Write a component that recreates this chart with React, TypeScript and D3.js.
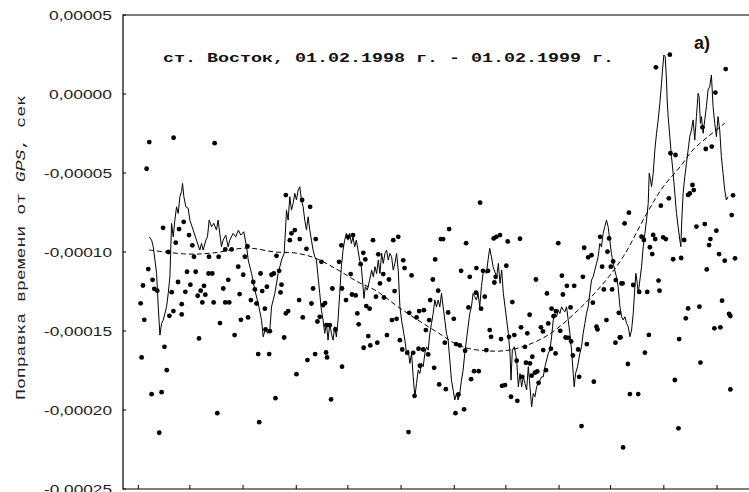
import React, { useEffect, useRef } from 'react'
import * as d3 from 'd3'

// values in microseconds, x in days from 01.02.1998
const dots: [number, number][] = [
  [5.6, -30.4], [20.2, -27.7], [44.9, -31.1], [4, -47.3], [26.3, -80.9], [13.9, -84.7], [23.5, -85.5], [29.5, -89.3],
  [21.5, -94.1], [31.5, -95.8], [17, -100], [32.5, -103], [5, -110.8], [7.6, -117.6], [1.8, -121.2], [8.6, -123.3],
  [10.4, -124.5], [19.1, -125.4], [22.9, -119], [28.3, -112.5], [33.5, -112.5], [30.3, -120.7], [36.5, -124.5],
  [38.5, -121.4], [34.7, -127.7], [39.3, -127], [37.5, -131.9], [27.3, -125.2], [25.1, -133], [20.1, -137.4],
  [17.7, -140.4], [25.1, -139.5], [0.4, -132.5], [2.6, -142.9], [35.5, -154.7], [41.5, -103], [41.3, -113.6],
  [43.5, -113.6], [44.3, -131.9], [47.3, -103], [48.1, -145], [50.1, -123.1], [51.3, -131.9], [53.7, -131.9],
  [53.1, -117.6], [51.3, -98.4], [55.1, -98.4], [59.1, -109.3], [62.1, -114.4], [59.9, -126.6], [60.7, -142.9],
  [56.9, -152.6], [64.6, -96.3], [65, -141.4], [1, -166.7], [14.7, -160], [16.1, -174.8], [7, -190], [13, -188.7],
  [46.5, -202], [11.6, -214.4],
  [87.7, -64], [97.5, -67.1], [102.3, -71.4], [105.7, -91.8], [100.1, -98], [91.1, -88.2], [93.1, -86.1],
  [96.1, -91.8], [90.1, -92.5], [63.1, -103], [82.1, -102.4], [72.5, -113.6], [79.1, -114.4], [80.5, -113.6],
  [83.7, -111.9], [68.1, -119], [76.3, -122], [73.5, -124.7], [85.1, -120.7], [84.5, -125.6], [69.1, -123.7],
  [66.7, -130.4], [70.1, -132.6], [75.1, -135.9], [89.1, -137.4], [87.7, -138.9], [95.7, -130.4], [97.9, -141.4],
  [103.1, -132.6], [104.1, -123.1], [110.1, -133.6], [111.3, -132.3], [106.7, -144], [108.1, -141], [109.1, -106.2],
  [115.7, -123.1], [121.5, -123.1], [123.9, -130.4], [121.1, -95.8], [119.7, -106.2], [125.1, -90.4], [128.1, -89.3],
  [126.7, -114], [127.5, -126.9], [129.7, -127.5], [130.7, -138.9], [131.5, -145.8], [132.7, -107.7], [134.3, -100.5],
  [135.5, -104.7], [136.1, -134.2], [138.1, -135.9], [140.1, -92.5], [137.3, -153.2], [134.5, -160.6], [138.5, -159.1],
  [117.5, -149], [114.1, -146.3], [112.1, -146.3], [86.7, -154.1], [75.5, -149], [78.1, -150.1], [71.1, -164.6],
  [77.7, -164.6], [105.3, -164.6], [111.9, -163.6], [112.5, -166.7], [100.7, -168.4], [121.5, -172.6], [94.1, -177.3],
  [81.5, -192.5], [114.9, -193.3], [71.7, -207.7],
  [204.5, -68.8], [185.9, -85.5], [180.9, -91.8], [182.3, -91.8], [196.1, -94.4], [212.7, -91.4], [214.3, -90.4],
  [152.3, -92.5], [155.3, -90.4], [143.3, -101.5], [158.3, -105.3], [159.1, -110.2], [163.3, -114.8], [177.5, -104.7],
  [193.1, -111.9], [198.3, -115.7], [202.3, -110.2], [206.3, -111.9], [209.3, -111.9], [213.1, -119.3], [176.1, -117.4],
  [179.3, -124.5], [149.7, -117.4], [146.3, -114], [144.3, -119.9], [141.9, -128.3], [146.7, -128.8], [153.1, -124.7],
  [151.5, -143.1], [154.3, -142.3], [161.9, -138.5], [167.9, -137.4], [170.7, -136.8], [166.3, -141.4], [174.5, -130.4],
  [173.9, -143.1], [185.3, -138.3], [188.7, -142.3], [197.5, -135.1], [205.1, -135.9], [207.3, -128.3], [202.1, -125.8],
  [148.5, -152.6], [142.7, -157.4], [156.3, -155.8], [157.7, -161.7], [160.7, -163.8], [164.3, -163.8], [167.5, -161.2],
  [170.3, -161.7], [171.9, -149.4], [173.3, -164.8], [183.3, -157.4], [190.1, -158.3], [192.3, -159.1], [195.5, -162.5],
  [210.3, -149.4], [211.1, -153.7], [208.3, -162.1], [200.9, -175.4], [203.7, -175.4], [199.1, -180.5], [176.9, -173.3],
  [168.3, -172], [179.9, -183.8], [183.9, -186.8], [165.1, -191], [191.5, -190.2], [189.7, -202], [194.9, -199.6],
  [161.5, -214],
  [216.5, -89.3], [221.1, -93.3], [228.5, -91.6], [251.5, -94.4], [267.1, -97.3], [269.5, -103.4], [271.5, -102],
  [220.3, -108.7], [213.9, -115.7], [238.1, -117.4], [253.7, -115], [256.7, -121.4], [261.1, -121.4], [254.3, -126.9],
  [244.7, -126.2], [266.3, -115.7], [223.9, -131.7], [234.3, -139.7], [247.5, -135.9], [250.1, -137.4], [248.7, -140.6],
  [258.9, -135.1], [245.5, -145.2], [241.1, -147.7], [242.3, -150.3], [232.9, -151.5], [229.1, -147.7], [221.9, -153.7],
  [225.1, -152.6], [217.1, -155.1], [252.7, -149.9], [255.9, -154.1], [257.5, -154.3], [259.3, -156.6], [247.1, -161.2],
  [242.5, -162.1], [249.9, -164.2], [231.5, -160], [235.9, -166.3], [226.5, -168.8], [232.1, -170.1], [234.5, -170.5],
  [237.5, -176.4], [238.9, -175.6], [244.1, -174.8], [235.5, -178.3], [229.9, -179], [239.7, -182.8], [260.3, -165.5],
  [263.5, -161.7], [268.7, -158.3], [264.1, -179], [272.9, -182.1], [217.7, -184.7], [219.5, -184.2], [223.1, -191.6],
  [226.9, -194.2], [265.5, -210.2], [290.5, -223.7], [274.5, -147.3], [275.1, -149], [280.5, -143.1], [285.9, -157.4],
  [288.5, -154.1], [276.7, -90.4], [282.1, -91.4], [277.9, -109.3], [281.1, -99.8], [283.1, -109.3], [284.5, -106],
  [286.1, -117.8], [289.5, -119.9], [278.9, -123.7], [283.9, -123.7], [272.3, -132.1], [287.9, -138.5],
  [318.6, 24.9], [310.2, 16.9], [352.2, 15.8], [346, 0.9], [319, -37.5], [322, -38.6], [318, -66], [313.2, -70.7],
  [332.2, -57.6], [330.6, -62.9], [333, -60.8], [329.6, -63.9], [340.2, -34.8], [343.8, -33.3], [338.2, -21.1],
  [356.6, -64.1], [355.8, -76.6], [294, -75.1], [291.4, -81.9], [334.6, -83.9], [339.6, -82.3], [346.6, -86.5],
  [343, -91.8], [342.2, -95.6], [301.6, -90.3], [303, -92.4], [308.6, -89.2], [309.8, -91.8], [314.6, -90.7],
  [316.2, -91.8], [306.6, -97], [308, -101.3], [327.2, -92.4], [320.6, -104.6], [325.4, -103.8], [348.2, -101.3],
  [351.6, -105.5], [357.8, -104], [340.8, -111], [290.2, -119.8], [296.6, -120.9], [300.2, -125.3], [305, -125.3],
  [311.8, -118.1], [312.4, -124.5], [329.6, -135.7], [336.4, -134.6], [328.2, -142], [350, -130.8], [355, -140.5],
  [354.2, -139.2], [345.4, -148.3], [349, -147.7], [289, -154], [306, -152.5], [324.2, -155.1], [303.6, -163.7],
  [293.4, -170.9], [337, -170], [294.6, -189.9], [299.6, -189.9], [355, -187], [321.6, -181], [323.8, -211.6],
]

const trace: [number, number][] = [
  [5.6, -90.4], [7, -92.5], [8, -96.7], [9, -105.1], [10, -113.6], [11, -134.7], [12, -152.6], [13, -145.2],
  [14, -143.1], [16, -134.7], [17, -126.2], [18, -115.7], [19, -81.9], [20, -90.4], [21, -79.8], [22, -71.4],
  [23, -75.6], [24, -65], [25, -61.9], [25.6, -56.6], [26.4, -65], [27.6, -71.4], [29, -72.4], [30, -79.8],
  [32, -86.1], [34, -92.5], [36, -98.8], [37, -94.6], [38, -98.8], [39.6, -92.5], [40.6, -90.4], [41.6, -79.8],
  [43, -84], [44.4, -81.9], [46, -86.1], [47, -79.8], [48, -88.2], [49, -96.7], [50, -92.5], [51.6, -89.3],
  [53, -96.7], [54, -92.5], [56, -88.2], [57.6, -90.4], [59.2, -86.1], [60.6, -89.3], [62.4, -87.2],
  [64.1, -96.7], [65.1, -105.1], [67.1, -113.6], [69.1, -124.1], [71.1, -132.6], [73.1, -143.1], [74.1, -153.7],
  [75.5, -148.4], [76.7, -151.5], [78.1, -149.4], [79.1, -134.7], [81.1, -126.2], [83.1, -113.6], [85.1, -105.1],
  [86.7, -100.9], [87.5, -86.1], [88.1, -73.5], [89.1, -79.8], [90.1, -65], [91.1, -73.5], [92.1, -69.3],
  [93.1, -62.9], [94.1, -67.1], [95.1, -60.8], [96.1, -58.7], [97.1, -67.1], [98.1, -71.4], [99.1, -79.8],
  [100.1, -86.1], [101.1, -77.7], [102.1, -86.1], [103.1, -92.5], [104.1, -98.8], [105.1, -103], [106.1, -105.1],
  [107.1, -115.7], [108.1, -126.2], [109.1, -136.8], [110.1, -143.1], [111.1, -151.5], [112.1, -145.2],
  [113.1, -155.8], [114.1, -145.2], [115.1, -151.5], [116.1, -155.8], [117.1, -147.3], [118.1, -153.7],
  [119.1, -143.1], [120.1, -126.2], [121.1, -109.3], [122.1, -98.8], [123.1, -92.5], [124.1, -88.2], [125.1, -92.5],
  [126.1, -88.2], [127.1, -94.6], [128.1, -90.4], [129.1, -96.7], [130.1, -92.5], [131.1, -98.8], [132.1, -105.1],
  [133.1, -109.3], [134.7, -129.4], [135.5, -122], [136.7, -124.1], [138.1, -117.8],
  [139.3, -111.5], [140.3, -115.7], [141.3, -109.3], [142.3, -113.6], [143.3, -105.1], [144.3, -113.6],
  [145.3, -100.9], [146.3, -107.2], [147.3, -100.9], [148.3, -98.8], [149.3, -105.1], [150.3, -100.9], [151.3, -103],
  [152.3, -111.5], [153.3, -107.2], [154.3, -100.9], [155.3, -111.5], [156.3, -134.7], [157.3, -143.1],
  [158.3, -149.4], [159.3, -155.8], [160.3, -164.2], [161.3, -162.1], [162.3, -170.5], [163.3, -164.2], [164.3, -179],
  [165.3, -191.6], [166.3, -183.2], [167.3, -174.8], [168.3, -176.9], [169.3, -170.5], [170.3, -172.6],
  [171.3, -164.2], [172.3, -160], [173.3, -162.1], [174.3, -151.5], [175.3, -145.2], [176.3, -138.9], [177.3, -130.4],
  [178.3, -134.7], [179.3, -130.4], [180.3, -134.7], [181.3, -126.2], [182.3, -134.7], [183.3, -143.1],
  [184.3, -151.5], [185.3, -155.8], [186.3, -168.4], [187.3, -181.1], [188.3, -187.4], [189.3, -193.7],
  [190.3, -189.5], [191.3, -193.7], [192.3, -189.5], [193.3, -181.1], [194.3, -174.8], [195.3, -164.2],
  [196.3, -155.8], [197.3, -147.3], [198.3, -138.9], [199.3, -134.7], [200.3, -126.2], [201.3, -128.3],
  [202.3, -130.4], [203.3, -126.2], [204.3, -134.7], [205.3, -122], [206.3, -113.6], [207.3, -111.5], [208.3, -113.6],
  [209.3, -105.1], [210.3, -97.7], [211.3, -103], [212.3, -109.3],
  [214.5, -115.7], [215.5, -107.2], [216.5, -119.9], [217.5, -111.5], [218.5, -126.2], [219.5, -134.7],
  [220.5, -143.1], [221.5, -151.5], [222.5, -164.2], [223.1, -181.1], [223.9, -162.1], [225.1, -160], [226.5, -168.4],
  [227.5, -185.3], [228.5, -176.9], [229.5, -185.3], [230.5, -179], [231.5, -183.2], [232.5, -187.4], [233.5, -172.6],
  [234.5, -185.3], [235.5, -198], [236.5, -189.5], [237.5, -191.6], [238.5, -185.3], [239.5, -183.2], [240.5, -181.1],
  [241.5, -179], [242.5, -179], [243.5, -172.6], [244.5, -168.4], [245.5, -164.2], [246.5, -162.1], [247.5, -153.7],
  [248.5, -143.1], [249.5, -138.9], [250.5, -141], [251.5, -136.8], [252.5, -138.9], [253.5, -134.7], [254.5, -136.8],
  [255.5, -137.8], [256.5, -134.7], [257.5, -143.1], [258.5, -151.5], [259.5, -162.1], [260.5, -176.9],
  [261.1, -185.3], [261.9, -176.9], [263.1, -172.6], [264.5, -164.2], [265.5, -160], [266.5, -151.5], [267.5, -145.2],
  [268.5, -138.9], [269.5, -134.7], [270.5, -126.2], [271.5, -117.8], [272.5, -115.7], [273.5, -111.5],
  [274.5, -107.2], [275.5, -103], [276.5, -94.6], [277.5, -96.7], [278.5, -88.2], [279.5, -84], [280.5, -79.8],
  [281.5, -84], [282.5, -92.5], [283.5, -100.9], [284.5, -107.2], [285.5, -111.5], [286.5, -115.7], [287.5, -122],
  [288.6, -134.6], [289.6, -141], [290.6, -143], [291.6, -141], [292.6, -145.2], [293.6, -147.3], [294.6, -153.6],
  [295.6, -149.4], [296.6, -138.8], [297.6, -122], [298.2, -113.5], [299, -119.8], [299.6, -126.2], [300.6, -117.7],
  [301.6, -109.3], [302.6, -96.6], [303.6, -88.2], [304.6, -79.7], [305.6, -69.2], [306.2, -50.2], [307, -54.4],
  [307.6, -58.6], [308.6, -50.2], [309.6, -35.4], [310.6, -24.9], [311.6, -16.4], [312.6, -5.9], [313.6, 6.8],
  [314.2, 15.2], [315, 24.7], [315.8, 23.7], [316.6, 8.9], [317, -3.8], [317.6, -14.3], [318.6, -27], [319.6, -39.7],
  [320.6, -50.2], [321.6, -62.9], [322.6, -75.5], [323.6, -84], [324.6, -92.4], [325.2, -96.6], [325.8, -79.7],
  [326.6, -62.9], [327.6, -52.3], [328.6, -43.9], [329.6, -35.4], [330.6, -27], [331.6, -22.8], [332.6, -16.4],
  [333.6, -29.1], [334.6, -14.3], [335.6, 0.4], [336.2, -1.7], [337, -18.6], [337.6, -14.3], [338.6, -24.9],
  [339.6, -16.4], [340.6, -8], [341.6, 2.6], [342.6, 4.7], [343.6, 12], [344.6, -8], [345.6, -18.6], [346.6, -27],
  [347.6, -14.3], [348.6, -22.8], [349.6, -39.7], [350.6, -50.2], [351.6, -60.8], [352.6, -67.1], [353.6, -65],
]

const trend: [number, number][] = [
  [5.4, -98.7], [28.3, -101.3], [43.9, -100.6], [64.3, -97.5], [81.2, -100], [93.2, -100.6], [105.2, -103.8],
  [119.1, -111.4], [131.1, -119], [141.3, -124.1], [156.3, -135.5], [178.6, -150.7], [194.2, -160.1],
  [216.5, -162.7], [229.7, -160.1], [245.3, -152.6], [261.6, -138.6], [277.8, -120.9], [290.4, -103.2],
  [304.9, -75.3], [314.5, -58.9], [324.7, -46.2], [332.5, -35.4], [342.8, -25.9], [351.8, -18.4],
]

const yTicks = [50, 0, -50, -100, -150, -200, -250]
const xTicks = [-1, 30, 62, 94, 125, 157, 189, 220, 252, 283, 315, 347]

const title = 'ст. Восток, 01.02.1998 г. - 01.02.1999 г.'

const width = 749
const height = 492

const App = () => {
  const svgRef = useRef<SVGSVGElement>(null)

  useEffect(() => {
    const svg = d3.select(svgRef.current)
    svg.selectAll('*').remove()

    const left = 123
    const top = 15
    const bottom = 489

    const x = d3.scaleLinear().domain([-10.2, 365]).range([left, 747])
    const y = d3.scaleLinear().domain([-250, 50]).range([bottom, top])

    svg.append('rect').attr('width', width).attr('height', height).attr('fill', '#fff')

    // frame
    svg.append('path')
      .attr('d', `M${width},${top}H${left}V${bottom}H${width}`)
      .attr('fill', 'none').attr('stroke', '#000').attr('stroke-width', 1.2)

    const fmt = (v: number) => (v / 1e6).toFixed(5).replace('.', ',')

    const yg = svg.append('g')
    yg.selectAll('line').data(yTicks).enter().append('line')
      .attr('x1', left).attr('x2', left + 3)
      .attr('y1', d => y(d)).attr('y2', d => y(d))
      .attr('stroke', '#000')
    yg.selectAll('text').data(yTicks).enter().append('text')
      .attr('x', 112).attr('y', d => y(d)).attr('dy', '0.36em')
      .attr('text-anchor', 'end')
      .attr('font-family', '"Liberation Sans", Arial, sans-serif')
      .attr('font-size', 13.5)
      .attr('fill', '#222')
      .attr('textLength', d => (d < 0 ? 68 : 63))
      .attr('lengthAdjust', 'spacingAndGlyphs')
      .text(d => fmt(d))

    svg.append('g').selectAll('line').data(xTicks).enter().append('line')
      .attr('x1', d => x(d)).attr('x2', d => x(d))
      .attr('y1', bottom).attr('y2', bottom - 4)
      .attr('stroke', '#000')

    const line = d3.line<[number, number]>().x(d => x(d[0])).y(d => y(d[1]))

    svg.append('path').datum(trace)
      .attr('d', line)
      .attr('fill', 'none').attr('stroke', '#000').attr('stroke-width', 1)

    svg.append('path').datum(trend)
      .attr('d', line.curve(d3.curveCatmullRom))
      .attr('fill', 'none').attr('stroke', '#000').attr('stroke-width', 1)
      .attr('stroke-dasharray', '5,3')

    svg.append('g').selectAll('circle').data(dots).enter().append('circle')
      .attr('cx', d => x(d[0])).attr('cy', d => y(d[1]))
      .attr('r', 2.4).attr('fill', '#000')

    svg.append('text')
      .attr('x', 163).attr('y', 62)
      .attr('font-family', '"Liberation Mono", "Courier New", monospace')
      .attr('font-weight', 'bold').attr('font-size', 13)
      .attr('textLength', 451).attr('lengthAdjust', 'spacingAndGlyphs')
      .attr('fill', '#111')
      .text(title)

    svg.append('text')
      .attr('x', 694).attr('y', 49)
      .attr('font-family', '"Liberation Sans", Arial, sans-serif')
      .attr('font-weight', 'bold').attr('font-size', 18)
      .attr('fill', '#111')
      .text('а)')

    const yl = svg.append('text')
      .attr('transform', 'translate(25,400) rotate(-90)')
      .attr('font-family', '"Liberation Mono", "Courier New", monospace')
      .attr('font-size', 12.5)
      .attr('textLength', 305).attr('lengthAdjust', 'spacingAndGlyphs')
      .attr('fill', '#222')
    yl.append('tspan').text('Поправка времени от ')
    yl.append('tspan').attr('font-style', 'italic').text('GPS')
    yl.append('tspan').text(', сек')
  }, [])

  return (
    <svg
      ref={svgRef}
      width={width}
      height={height}
      style={{ position: 'absolute', left: 0, top: 0, display: 'block' }}
    />
  )
}

export default App
